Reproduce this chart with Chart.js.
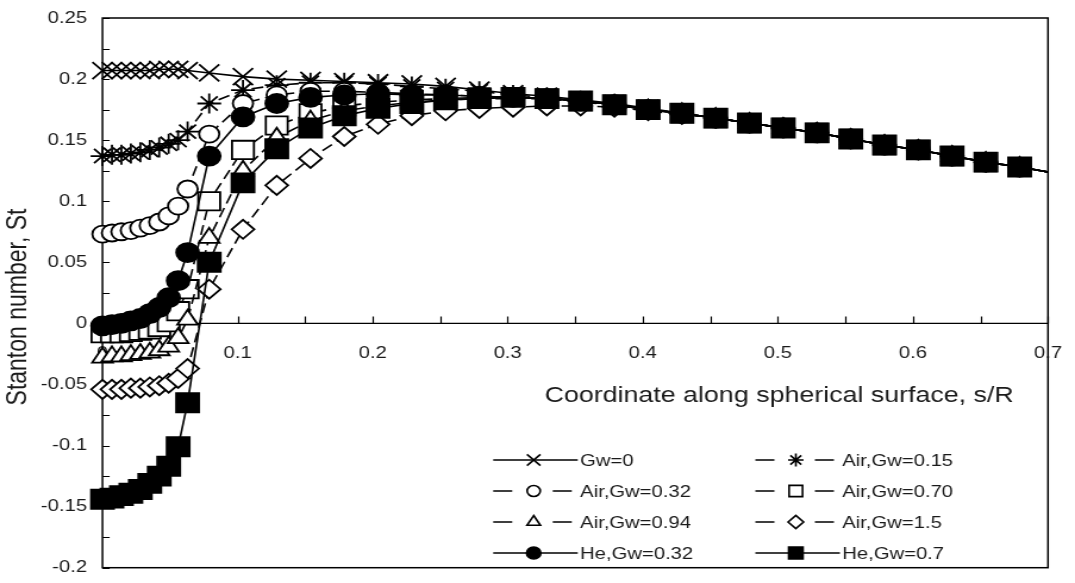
<!DOCTYPE html>
<html><head><meta charset="utf-8">
<script src="https://cdn.jsdelivr.net/npm/chart.js@4.4.1/dist/chart.umd.min.js"></script>
<style>html,body{margin:0;padding:0;background:#fff;overflow:hidden}canvas{display:block}</style>
</head><body>
<canvas id="c" width="903" height="583" style="width:1075px;height:583px"></canvas>
<script>
// s/R positions of the computed points
const sPos = [0,0.007,0.014,0.021,0.028,0.035,0.042,0.049,0.056,0.063,
  0.079,0.104,0.129,0.154,0.179,0.204,0.229,0.254,0.279,0.304,
  0.329,0.354,0.379,0.404,0.429,0.454,0.479,0.504,0.529,0.554,0.579,0.604,0.629,0.654,0.679,0.7];

const seriesNames = ['Gw=0','Air,Gw=0.15','Air,Gw=0.32','Air,Gw=0.70','Air,Gw=0.94','Air,Gw=1.5','He,Gw=0.32','He,Gw=0.7'];

const gw0 = [0.207,0.207,0.207,0.207,0.207,0.207,0.208,0.208,0.208,0.207,
  0.205,0.202,0.200,0.199,0.198,0.197,0.196,0.194,0.191,0.188,
  0.186,0.183,0.180,0.176,0.172,0.168,0.164,0.160,0.156,0.151,0.146,0.142,0.137,0.132,0.128,0.124];
const a015 = [0.137,0.138,0.138,0.139,0.140,0.142,0.144,0.147,0.150,0.157,
  0.180,0.191,0.195,0.197,0.197,0.196,0.194,0.192,0.190,0.187,
  0.185,0.182,0.179,0.175,0.172,0.168,0.164,0.160,0.156,0.151,0.146,0.142,0.137,0.132,0.128,0.124];
const a032 = [0.073,0.074,0.075,0.076,0.078,0.080,0.083,0.088,0.096,0.110,
  0.155,0.180,0.187,0.190,0.190,0.189,0.188,0.187,0.186,0.185,
  0.184,0.182,0.179,0.175,0.172,0.168,0.164,0.160,0.156,0.151,0.146,0.142,0.137,0.132,0.128,0.124];
const a070 = [-0.008,-0.008,-0.008,-0.007,-0.006,-0.005,-0.003,0.001,0.010,0.028,
  0.100,0.142,0.162,0.172,0.178,0.181,0.183,0.184,0.185,0.185,
  0.184,0.182,0.179,0.175,0.172,0.168,0.164,0.160,0.156,0.151,0.146,0.142,0.137,0.132,0.128,0.124];
const a094 = [-0.028,-0.027,-0.027,-0.026,-0.025,-0.024,-0.022,-0.019,-0.012,0.003,
  0.070,0.125,0.152,0.166,0.174,0.178,0.181,0.183,0.184,0.184,
  0.184,0.181,0.179,0.175,0.172,0.168,0.164,0.160,0.156,0.151,0.146,0.142,0.137,0.132,0.128,0.124];
const a150 = [-0.054,-0.054,-0.054,-0.053,-0.053,-0.052,-0.051,-0.049,-0.045,-0.037,
  0.028,0.077,0.113,0.135,0.153,0.163,0.170,0.174,0.176,0.177,
  0.178,0.178,0.177,0.174,0.171,0.168,0.164,0.160,0.156,0.151,0.146,0.142,0.137,0.132,0.128,0.124];
const he032 = [-0.002,-0.001,0.000,0.002,0.004,0.008,0.013,0.021,0.035,0.058,
  0.137,0.169,0.180,0.185,0.187,0.188,0.187,0.187,0.186,0.185,
  0.184,0.182,0.179,0.175,0.172,0.168,0.164,0.160,0.156,0.151,0.146,0.142,0.137,0.132,0.128,0.124];
const he07 = [-0.144,-0.143,-0.141,-0.139,-0.136,-0.131,-0.125,-0.117,-0.101,-0.065,
  0.050,0.115,0.143,0.160,0.170,0.176,0.180,0.183,0.184,0.185,
  0.184,0.182,0.179,0.175,0.172,0.168,0.164,0.160,0.156,0.151,0.146,0.142,0.137,0.132,0.128,0.124];

const xTickValues = [0,0.1,0.2,0.3,0.4,0.5,0.6,0.7];
const xTickLabels = ['0','0.1','0.2','0.3','0.4','0.5','0.6','0.7'];
const yTickValues = [-0.2,-0.15,-0.1,-0.05,0,0.05,0.1,0.15,0.2,0.25];
const yTickLabels = ['-0.2','-0.15','-0.1','-0.05','0','0.05','0.1','0.15','0.2','0.25'];
const xTitle = 'Coordinate along spherical surface, s/R';
const yTitle = 'Stanton number, St';

const FONT = '"Liberation Sans", Arial, sans-serif';
const TXT = '#1a1a1a';
const seriesValues = [gw0,a015,a032,a070,a094,a150,he032,he07];
const DASH = [10,5];
const styles = [
  {ps:'crossRot', r:12, lr:8, fill:'#000', dash:[]},
  {ps:'star', r:10, lr:6.5, fill:'#000', dash:DASH},
  {ps:'circle', r:8.5, lr:5.5, fill:'#fff', dash:DASH},
  {ps:'rect', r:13, lr:8, fill:'#fff', dash:DASH},
  {ps:'triangle', r:10, lr:6.5, fill:'#fff', dash:DASH},
  {ps:'rectRot', r:9.5, lr:6.5, fill:'#fff', dash:DASH},
  {ps:'circle', r:9.5, lr:6, fill:'#000', dash:[]},
  {ps:'rect', r:13.5, lr:8.5, fill:'#000', dash:[]}
];
const lastIdx = sPos.length - 1;

const datasets = seriesValues.map((vals, i) => ({
  label: seriesNames[i],
  data: sPos.map((s, j) => ({x: s, y: vals[j]})),
  borderColor: '#000', borderWidth: 1.6, borderDash: styles[i].dash,
  pointStyle: styles[i].ps,
  pointRadius: (c) => c.dataIndex === lastIdx ? 0 : styles[i].r,
  pointBorderColor: '#000', pointBorderWidth: 1.8,
  pointBackgroundColor: styles[i].fill,
  tension: 0, fill: false, clip: false, order: 8 - i
}));

function mids(arr){ const out=[]; for(let i=0;i<arr.length;i++){ out.push(arr[i]); if(i<arr.length-1) out.push((arr[i]+arr[i+1])/2);} return out; }

const decor = {
  id: 'decor',
  beforeDatasetsDraw(chart) {
    const {ctx, chartArea: a, scales: {x, y}} = chart;
    ctx.save();
    ctx.strokeStyle = '#000';
    ctx.lineWidth = 1.5;
    ctx.strokeRect(a.left, a.top, a.right - a.left, a.bottom - a.top);
    const y0 = y.getPixelForValue(0);
    ctx.lineWidth = 1.3;
    ctx.beginPath(); ctx.moveTo(a.left, y0); ctx.lineTo(a.right, y0); ctx.stroke();
    ctx.lineWidth = 1.2;
    ctx.beginPath();
    mids(yTickValues).forEach(v => { const py = Math.round(y.getPixelForValue(v)) + 0.5; ctx.moveTo(a.left, py); ctx.lineTo(a.left + 6, py); });
    mids(xTickValues).forEach(v => { const px = Math.round(x.getPixelForValue(v)) + 0.5; ctx.moveTo(px, y0); ctx.lineTo(px, y0 - 7); });
    ctx.stroke();
    ctx.restore();
  },
  afterDraw(chart) {
    const {ctx} = chart;
    const H = Chart.helpers;
    ctx.save();
    ctx.fillStyle = TXT;
    ctx.textAlign = 'center'; ctx.textBaseline = 'middle';
    ctx.font = '22.5px ' + FONT;
    ctx.fillText(xTitle, 654.5, 396);
    ctx.save();
    ctx.font = '23px ' + FONT;
    ctx.translate(16, 307); ctx.rotate(-Math.PI / 2);
    ctx.fillText(yTitle, 0, 0);
    ctx.restore();
    // legend
    const cols = [414.3, 634.5];
    const rows = [460, 491, 522, 553];
    ctx.font = '17px ' + FONT;
    ctx.textAlign = 'left';
    datasets.forEach((d, i) => {
      const cx = cols[i % 2], cy = rows[Math.floor(i / 2)];
      const st = styles[i];
      ctx.strokeStyle = '#000'; ctx.lineWidth = 1.6; ctx.setLineDash([]);
      ctx.beginPath();
      if (st.dash.length) {
        ctx.moveTo(cx, cy); ctx.lineTo(cx + 16, cy);
        ctx.moveTo(cx + 50, cy); ctx.lineTo(cx + 66, cy);
      } else {
        ctx.moveTo(cx, cy); ctx.lineTo(cx + 71, cy);
      }
      ctx.stroke();
      ctx.fillStyle = st.fill; ctx.lineWidth = 1.6;
      H.drawPoint(ctx, {pointStyle: st.ps, radius: st.lr, rotation: 0, borderWidth: 1.6}, cx + 34, cy);
      ctx.fillStyle = TXT;
      ctx.fillText(d.label, cx + 73, cy + 1);
    });
    ctx.restore();
  }
};

// invisible tick marks only reserve the gap between axis and labels
const hiddenTicks = (len) => ({display: true, drawOnChartArea: false, drawTicks: true, tickLength: len, color: 'rgba(0,0,0,0)'});

new Chart(document.getElementById('c'), {
  type: 'line',
  data: {datasets},
  options: {
    responsive: false, animation: false, events: [],
    layout: {padding: {left: 0, top: 18, right: 22.7, bottom: 12}},
    plugins: {legend: {display: false}, tooltip: {enabled: false}},
    scales: {
      x: {
        type: 'linear', min: 0, max: 0.7, position: {y: 0},
        afterBuildTicks: (s) => { s.ticks = xTickValues.map(v => ({value: v})); },
        ticks: {callback: (v, i) => xTickLabels[i], padding: 0, maxRotation: 0, autoSkip: false,
          font: {size: 17, family: FONT}, color: TXT},
        grid: hiddenTicks(20), border: {display: false}
      },
      y: {
        type: 'linear', min: -0.2, max: 0.25, position: 'left',
        afterBuildTicks: (s) => { s.ticks = yTickValues.map(v => ({value: v})); },
        afterFit: (s) => { s.width = 86.1; },
        ticks: {callback: (v, i) => yTickLabels[i], padding: 0, autoSkip: false,
          font: {size: 17, family: FONT}, color: TXT},
        grid: hiddenTicks(13), border: {display: false}
      }
    }
  },
  plugins: [decor]
});
</script>
</body></html>
